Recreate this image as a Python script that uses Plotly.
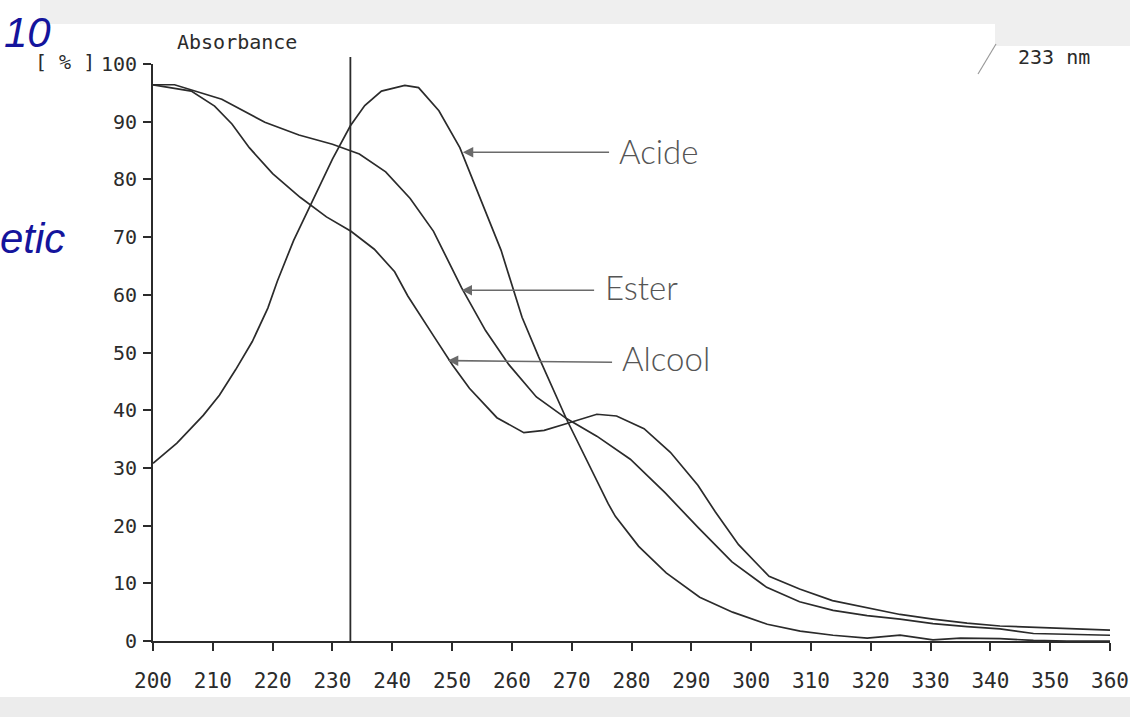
import plotly.graph_objects as go

# ---- data ----
acide_nm = [200, 204, 208.4, 211.1, 213.8, 216.6, 219.2, 220.8, 223.5, 226.8, 230, 233, 235.4,
            238.2, 242.1, 244.4, 247.8, 251.3, 255.3, 258.2, 261.7, 264.5, 269.2, 273.1, 276.1,
            277.3, 281.2, 285.8, 291.4, 296.9, 302.7, 308.2, 313.7, 319.4, 324.9, 330.4, 335,
            341.6, 347.2, 352.8, 360]
acide_abs = [30.8, 34.3, 39.1, 42.6, 47.0, 51.9, 57.7, 62.4, 69.4, 76.5, 83.5, 89.3, 92.8,
             95.3, 96.3, 95.9, 91.9, 85.5, 75.2, 67.7, 56.1, 49.2, 38.3, 30.2, 23.8,
             21.6, 16.4, 11.8, 7.6, 5.0, 2.9, 1.7, 1.0, 0.5, 1.0, 0.2, 0.5,
             0.4, 0.1, 0.0, 0.0]

ester_nm = [200, 203.6, 211.5, 218.7, 224.4, 230.0, 234.5, 238.9, 243.0, 246.9, 251.6, 255.6,
            259.5, 264.1, 269.2, 274.2, 279.8, 285.6, 291.2, 296.8, 302.6, 308.1, 313.7, 319.4,
            324.9, 330.4, 336.1, 341.6, 347.2, 355.5, 360]
ester_abs = [96.4, 96.4, 93.9, 89.9, 87.7, 86.1, 84.4, 81.3, 76.7, 71.0, 61.2, 53.8,
             47.9, 42.3, 38.5, 35.5, 31.5, 25.7, 19.6, 13.7, 9.3, 6.8, 5.3, 4.4,
             3.8, 3.0, 2.5, 2.1, 1.3, 1.1, 1.0]

alcool_nm = [200, 206.4, 210.3, 213.2, 216.1, 220.0, 224.6, 229.0, 233.1, 237.0, 240.4, 242.6,
             247.2, 250.1, 252.9, 257.5, 262.0, 265.4, 269.2, 274.2, 277.5, 282.1, 286.5, 291.1,
             294.0, 297.9, 303.0, 308.1, 313.6, 319.4, 324.9, 330.4, 336.1, 341.6, 347.2, 355.5, 360]
alcool_abs = [96.4, 95.3, 92.7, 89.6, 85.5, 81.0, 76.9, 73.5, 71.0, 67.9, 64.0, 59.8,
              52.4, 47.8, 43.8, 38.7, 36.1, 36.5, 37.7, 39.3, 39.0, 36.8, 32.7, 27.0,
              22.4, 16.7, 11.2, 9.0, 7.0, 5.8, 4.6, 3.8, 3.1, 2.6, 2.4, 2.0, 1.9]

x_ticks = [200, 210, 220, 230, 240, 250, 260, 270, 280, 290, 300, 310, 320, 330, 340, 350, 360]
y_ticks = [0, 10, 20, 30, 40, 50, 60, 70, 80, 90, 100]
marker_nm = 233

# labels: (name, arrow tip x, arrow tip y, arrow tail x, arrow tail y, text x, text y)
labels = [
    ("Acide", 251.8, 84.7, 276.5, 84.7, 277.6, 85.0),
    ("Ester", 251.6, 60.8, 274.0, 60.8, 275.2, 61.4),
    ("Alcool", 249.3, 48.6, 277.0, 48.3, 278.0, 49.0),
]

# ---- figure ----
INK = "#2b2b2b"
MONO = "DejaVu Sans Mono"
W, H = 1143, 717
ML, MR, MT, MB = 153, 33, 64, 76
PW, PH = W - ML - MR, H - MT - MB


def px(xp):
    return (xp - ML) / PW


def py(yp):
    return (H - MB - yp) / PH


fig = go.Figure()
for xs, ys, nm in [(acide_nm, acide_abs, "Acide"), (ester_nm, ester_abs, "Ester"),
                   (alcool_nm, alcool_abs, "Alcool")]:
    fig.add_trace(go.Scatter(x=xs, y=ys, mode="lines", name=nm,
                             line=dict(color=INK, width=1.7), showlegend=False))

shapes = [
    # 233 nm cursor line
    dict(type="line", xref="x", yref="paper", x0=marker_nm, x1=marker_nm, y0=0, y1=1.012,
         line=dict(color=INK, width=1.8)),
    # scan background bands
    dict(type="rect", xref="paper", yref="paper", x0=px(40), x1=px(1143), y0=py(24), y1=py(0),
         fillcolor="#efefef", line=dict(width=0), layer="below"),
    dict(type="rect", xref="paper", yref="paper", x0=px(995), x1=px(1143), y0=py(46), y1=py(0),
         fillcolor="#efefef", line=dict(width=0), layer="below"),
    dict(type="rect", xref="paper", yref="paper", x0=px(0), x1=px(1143), y0=py(717), y1=py(697),
         fillcolor="#ececec", line=dict(width=0), layer="below"),
    dict(type="line", xref="paper", yref="paper", x0=px(978), x1=px(996), y0=py(74), y1=py(44),
         line=dict(color="#9a9a9a", width=1.2)),
]

annotations = []
for name, tx, ty, ax, ay, lx, ly in labels:
    annotations.append(dict(x=tx, y=ty, xref="x", yref="y", ax=ax, ay=ay, axref="x", ayref="y",
                            text="", showarrow=True, arrowhead=2, arrowsize=1.3, arrowwidth=1.6,
                            arrowcolor="#6a6a6a"))
    annotations.append(dict(x=lx, y=ly, xref="x", yref="y", text=name, showarrow=False,
                            xanchor="left", yanchor="middle",
                            font=dict(family="Lato", size=33, color="#555555", weight=300)))

annotations += [
    dict(x=px(175), y=py(42), xref="paper", yref="paper", text="Absorbance", showarrow=False,
         xanchor="left", yanchor="middle", font=dict(family=MONO, size=20, color=INK)),
    dict(x=px(97), y=py(62), xref="paper", yref="paper", text="[ % ]", showarrow=False,
         xanchor="right", yanchor="middle", font=dict(family=MONO, size=20, color=INK)),
    dict(x=px(1092), y=py(57), xref="paper", yref="paper", text="233 nm", showarrow=False,
         xanchor="right", yanchor="middle", font=dict(family=MONO, size=20, color=INK)),
    dict(x=px(2), y=py(32), xref="paper", yref="paper", text="<i>10</i>", showarrow=False,
         xanchor="left", yanchor="middle",
         font=dict(family="Liberation Sans", size=42, color="#14149c")),
    dict(x=px(-2), y=py(238), xref="paper", yref="paper", text="<i>etic</i>", showarrow=False,
         xanchor="left", yanchor="middle",
         font=dict(family="Liberation Sans", size=42, color="#14149c")),
]

fig.update_layout(
    width=W, height=H, autosize=False,
    margin=dict(l=ML, r=MR, t=MT, b=MB, pad=0),
    paper_bgcolor="white", plot_bgcolor="white",
    shapes=shapes, annotations=annotations,
    xaxis=dict(range=[200, 360], tickvals=x_ticks, ticktext=[str(v) for v in x_ticks],
               showgrid=False, zeroline=False, showline=True, linecolor=INK, linewidth=2,
               ticks="outside", ticklen=8, tickwidth=2, tickcolor=INK, ticklabelstandoff=12,
               tickfont=dict(family=MONO, size=21, color=INK)),
    yaxis=dict(range=[0, 100], tickvals=y_ticks, ticktext=[str(v) for v in y_ticks],
               showgrid=False, zeroline=False, showline=True, linecolor=INK, linewidth=2,
               ticks="outside", ticklen=8, tickwidth=2, tickcolor=INK, ticklabelstandoff=2,
               tickfont=dict(family=MONO, size=20, color=INK)),
)

fig.write_html("out.html")
